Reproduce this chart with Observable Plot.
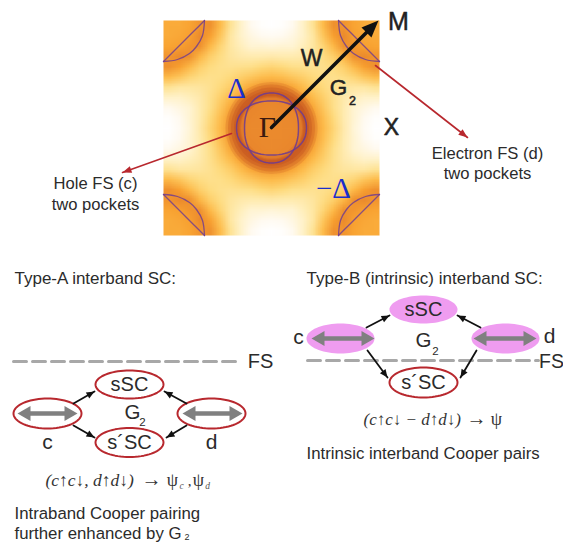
<!DOCTYPE html>
<html><head><meta charset="utf-8">
<style>html,body{margin:0;padding:0;background:#fff}svg{display:block}</style>
<script src="https://cdn.jsdelivr.net/npm/d3@7"></script>
<script src="https://cdn.jsdelivr.net/npm/@observablehq/plot@0.6"></script>
</head><body><div id="chart"></div>
<script>
// One quadrant of the intensity map (centre at top-left, corner at bottom-right)
const quadrant = [
 [.72,.72,.72,.74,.66,.46,.33,.20,.10,.04,.00],
 [.72,.72,.73,.74,.64,.44,.31,.19,.11,.05,.01],
 [.72,.73,.74,.72,.56,.40,.28,.19,.11,.08,.05],
 [.74,.74,.72,.60,.45,.36,.27,.20,.16,.13,.13],
 [.66,.64,.56,.45,.37,.31,.26,.23,.22,.22,.25],
 [.46,.44,.40,.36,.31,.28,.27,.29,.33,.40,.45],
 [.33,.31,.28,.27,.26,.27,.30,.36,.46,.60,.68],
 [.20,.19,.19,.20,.23,.29,.36,.48,.68,.72,.66],
 [.10,.11,.11,.16,.22,.33,.46,.68,.66,.60,.58],
 [.04,.05,.08,.13,.22,.40,.60,.72,.60,.56,.54],
 [.00,.01,.05,.13,.25,.45,.68,.66,.58,.54,.54]
];
const heatStops = [0,.05,.15,.3,.45,.6,.75,.9,1];
const heatColors = ["#ffffff","#fffaf0","#fff0c0","#fedc80","#fdbb4a","#f8a030","#e8842c","#cc5a1f","#8a3a50"];
const heatBox = {x1:163,y1:20,x2:379,y2:235};
const centre = [271,127.5];
const holeAxes = [[35,27],[27,35]];
const holeRoundness = 2.2;
// soft dark halo round the hole pockets: radius, stroke width, opacity
const haloRings = [[37,18,.16],[37,13,.2],[36,9,.25],[35,5,.25]];
const pocketArcA = [[41,0],[31,10],[21,20],[10,31],[0,41]];
const pocketArcB = [[41,0],[39,15],[33,26],[26,33],[14,39],[0,41]];
const pocketCorners = [[163,20,1,1],[379,20,-1,1],[163,235,1,-1],[379,235,-1,-1]];

const ovals = [
 {id:"A-s",cx:129,cy:384,rx:34,ry:14,pink:false},
 {id:"A-s2",cx:129,cy:442,rx:34,ry:14.5,pink:false},
 {id:"A-c",cx:47,cy:413,rx:34,ry:15,pink:false},
 {id:"A-d",cx:211,cy:413,rx:34,ry:15,pink:false},
 {id:"B-s",cx:423,cy:309,rx:34,ry:14,pink:true},
 {id:"B-c",cx:340,cy:338,rx:34,ry:15,pink:true},
 {id:"B-d",cx:505,cy:338,rx:34,ry:15,pink:true},
 {id:"B-s2",cx:423,cy:382,rx:34,ry:15,pink:false}
];
const dashes = [[13,240,361],[307,538,360]];
const greyArrows = [[17,77,413],[182,242,413],[311,374,338],[473,536,338]];
const blackArrows = [
 [73,403,94,391],[186,403,164,391],[73,425,94,437],[186,425,166,437],
 [366,327,389,315],[480,327,457,315],[367,350,387,377],[476,350,460,377]
];
const redArrows = [[231,133,122,172],[375,65,467,137]];
const mainArrow = [271,127,378,20];

const sansLabels = [
 {t:"Hole FS (c)",x:95,y:183,s:16.6},{t:"two pockets",x:95,y:204,s:16.6},
 {t:"Electron FS (d)",x:487,y:153,s:16.6},{t:"two pockets",x:487,y:173,s:16.6},
 {t:"sSC",x:129,y:384,s:20},{t:"s´SC",x:129,y:442,s:20},
 {t:"G",x:132,y:412,s:20.5},{t:"2",x:142,y:422,s:11.5},
 {t:"c",x:47,y:442,s:21},{t:"d",x:211,y:442,s:21},
 {t:"FS",x:260,y:361,s:20},
 {t:"sSC",x:423,y:309,s:20},{t:"s´SC",x:423,y:382,s:20},
 {t:"G",x:423,y:340,s:20.5},{t:"2",x:435,y:351,s:11.5},
 {t:"c",x:298,y:337,s:21},{t:"d",x:549,y:336,s:21},
 {t:"FS",x:551,y:361,s:19.5}
];
const startLabels = [
 {t:"Type-A interband SC:",x:14,y:278,s:17},
 {t:"Type-B (intrinsic) interband SC:",x:306,y:278,s:17},
 {t:"Intraband Cooper pairing",x:14,y:513,s:16.8},
 {t:"further enhanced by G",x:14,y:533.5,s:16.8},
 {t:"2",x:184,y:536.5,s:9},
 {t:"Intrinsic interband Cooper pairs",x:306,y:453,s:16.8}
];
const heavyLabels = [
 {t:"M",x:398,y:21,s:25},{t:"W",x:311,y:58,s:23},{t:"G",x:338,y:87,s:22.5},
 {t:"2",x:352,y:100,s:12.5},{t:"X",x:391,y:127,s:23}
];
const blueLabels = [{t:"Δ",x:236,y:88,s:29},{t:"−Δ",x:333,y:188,s:29}];
const mathItalic = [
 {t:"(c↑c↓, d↑d↓)",x:45,y:480,s:17.5},{t:"(c↑c↓ − d↑d↓)",x:363,y:419,s:17}
];
const mathRoman = [
 {t:"→",x:151,y:479,s:20},{t:"ψ",x:172,y:480,s:18},{t:",",x:189,y:481,s:15},{t:"ψ",x:198,y:480,s:18},
 {t:"→",x:476,y:418,s:20},{t:"ψ",x:496,y:419,s:18}
];
const mathSubs = [{t:"c",x:181,y:485,s:9.5},{t:"d",x:207,y:485,s:9.5}];

// ---- assembling ----
const n = quadrant.length;
const mirror = i => i < n ? n-1-i : i-n+1;
const heat = [];
for (let r=0;r<2*n-1;r++) for (let c=0;c<2*n-1;c++) heat.push(quadrant[mirror(r)][mirror(c)]);

const rad = a => a*Math.PI/180;
const ellipse = (id,cx,cy,rx,ry,p=2) => d3.range(0,361,5).map(a=>{
  const c=Math.cos(rad(a)),s=Math.sin(rad(a));
  return {id,x:cx+rx*Math.sign(c)*Math.abs(c)**(2/p),y:cy+ry*Math.sign(s)*Math.abs(s)**(2/p)};
});
const holeLines = holeAxes.flatMap(([rx,ry],i)=>ellipse("h"+i,centre[0],centre[1],rx,ry,holeRoundness));
const pocketLines = pocketCorners.flatMap(([px,py,sx,sy],k)=>
  [pocketArcA,pocketArcB].flatMap((arc,a)=>arc.map(([u,v])=>({id:k+"-"+a,x:px+sx*u,y:py+sy*v}))));
const ovalPts = list => list.flatMap(o=>ellipse(o.id,o.cx,o.cy,o.rx,o.ry));

function head(id,x0,y0,x1,y1,len,wid){
  const L=Math.hypot(x1-x0,y1-y0),ux=(x1-x0)/L,uy=(y1-y0)/L,bx=x1-ux*len,by=y1-uy*len;
  return [{id,x:x1,y:y1},{id,x:bx-uy*wid/2,y:by+ux*wid/2},{id,x:bx+uy*wid/2,y:by-ux*wid/2},{id,x:x1,y:y1}];
}
const shafts = (list,name) => list.flatMap((a,i)=>[{id:name+i,x:a[0],y:a[1]},{id:name+i,x:a[2],y:a[3]}]);
const heads = (list,name,len,wid) => list.flatMap((a,i)=>head(name+i,a[0],a[1],a[2],a[3],len,wid));
const greyFull = greyArrows.flatMap(([a,b,y],i)=>[
  ...head("gl"+i,b,y,a,y,13,15), ...head("gr"+i,a,y,b,y,13,15)]);
const greyShaft = greyArrows.flatMap(([a,b,y],i)=>[{id:"g"+i,x:a+8,y},{id:"g"+i,x:b-8,y}]);
const dashPts = dashes.flatMap(([a,b,y],i)=>[{id:i,x:a,y},{id:i,x:b,y}]);

const L = (rows,o) => Plot.text(rows,{x:"x",y:"y",text:"t",fontSize:d=>d.s,...o});
const xy = {x:"x",y:"y",z:"id"};
const sans = "Liberation Sans, Arimo, Helvetica, Arial, sans-serif";
const serif = "Liberation Serif, DejaVu Serif, serif";

const plot = Plot.plot({
  width:563,height:542,margin:0,
  x:{domain:[0,563],range:[0,563],axis:null},
  y:{domain:[0,542],range:[0,542],axis:null},
  color:{type:"linear",domain:heatStops,range:heatColors},
  style:{background:"#fff"},
  marks:[
    Plot.raster(heat,{width:2*n-1,height:2*n-1,...heatBox}),
    ...haloRings.map(([r,w,o],i)=>Plot.line(ellipse("ring"+i,centre[0],centre[1],r,r),{...xy,stroke:"#b8431c",strokeWidth:w,strokeOpacity:o})),
    Plot.line(pocketLines,{...xy,stroke:"#6b3a94",strokeWidth:1.3,strokeOpacity:.8,curve:"catmull-rom"}),
    Plot.line(holeLines,{...xy,stroke:"#6b3a94",strokeWidth:1.5,strokeOpacity:.85}),
    Plot.line(dashPts,{...xy,stroke:"#a8a8a8",strokeWidth:3,strokeDasharray:"13 6"}),
    Plot.line(shafts(redArrows,"r"),{...xy,stroke:"#b8282e",strokeWidth:1.6}),
    Plot.line(heads(redArrows,"rh",9,7),{...xy,fill:"#b8282e",stroke:"none"}),
    Plot.line(ovalPts(ovals.filter(o=>o.pink)),{...xy,fill:"#ef9cf0",stroke:"none"}),
    Plot.line(ovalPts(ovals.filter(o=>!o.pink)),{...xy,fill:"#fff",stroke:"#b8282e",strokeWidth:2}),
    Plot.line(greyShaft,{...xy,stroke:"#808080",strokeWidth:4.5}),
    Plot.line(greyFull,{...xy,fill:"#808080",stroke:"none"}),
    Plot.line(shafts(blackArrows,"b"),{...xy,stroke:"#111",strokeWidth:1.8}),
    Plot.line(heads(blackArrows,"bh",8,7),{...xy,fill:"#111",stroke:"none"}),
    Plot.line(shafts([[mainArrow[0],mainArrow[1],mainArrow[2]-8,mainArrow[3]+8]],"m"),{...xy,stroke:"#111",strokeWidth:3.6}),
    Plot.line(heads([mainArrow],"mh",17,14),{...xy,fill:"#111",stroke:"none"}),
    L(sansLabels,{fontFamily:sans,fill:"#2b2b2b"}),
    L(startLabels,{fontFamily:sans,fill:"#2b2b2b",textAnchor:"start"}),
    L(heavyLabels,{fontFamily:sans,fill:"#222",stroke:"#222",strokeWidth:.5}),
    L(blueLabels,{fontFamily:serif,fill:"#1a2ecc"}),
    L([{t:"Γ",x:267,y:127,s:30}],{fontFamily:serif,fill:"#3a1a10"}),
    L(mathItalic,{fontFamily:serif,fontStyle:"italic",fill:"#333",textAnchor:"start"}),
    L(mathRoman,{fontFamily:serif,fill:"#333"}),
    L(mathSubs,{fontFamily:serif,fontStyle:"italic",fill:"#555"})
  ]
});
document.getElementById("chart").append(plot);
</script></body></html>
